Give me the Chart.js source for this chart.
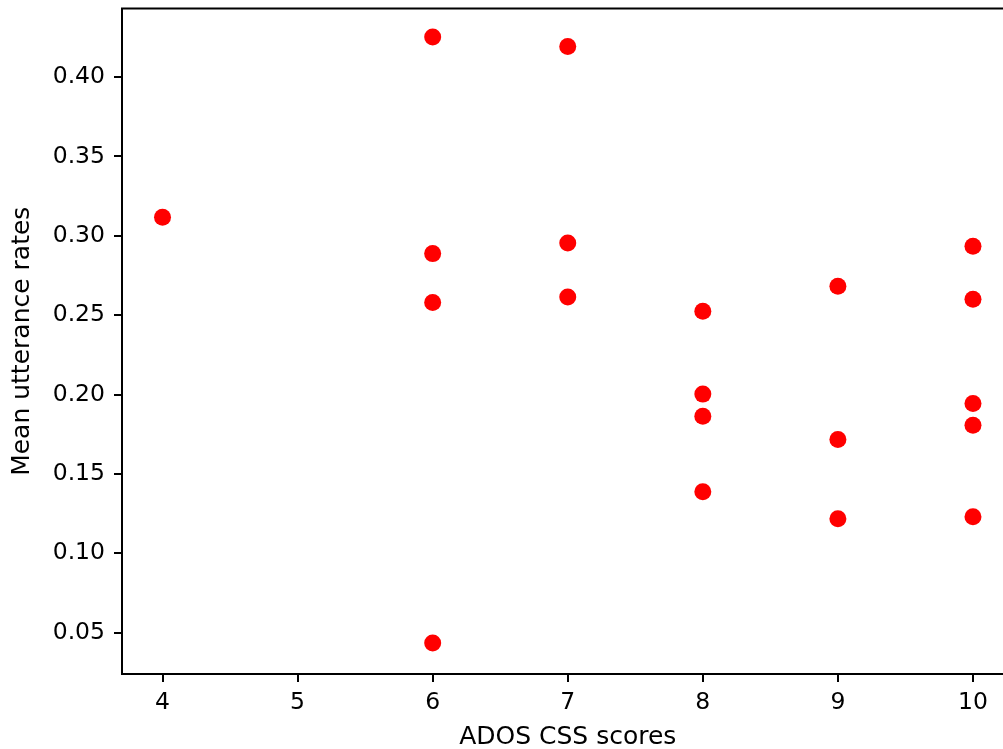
<!DOCTYPE html>
<html>
<head>
<meta charset="utf-8">
<script src="https://cdn.jsdelivr.net/npm/chart.js@4/dist/chart.umd.min.js"></script>
<style>
  html, body { margin: 0; padding: 0; background: #fff; overflow: hidden; }
  #wrap { width: 1003px; height: 749px; overflow: hidden; position: relative; }
  canvas { display: block; }
</style>
</head>
<body>
<div id="wrap"><canvas id="c" width="1040" height="752"></canvas></div>
<script>
const xScores = [4, 6, 6, 6, 6, 7, 7, 7, 8, 8, 8, 8, 9, 9, 9, 10, 10, 10, 10, 10];
const utteranceRates = [0.3117, 0.4252, 0.2888, 0.2580, 0.0435, 0.4193, 0.2955, 0.2615,
  0.2525, 0.2003, 0.1864, 0.1388, 0.2682, 0.1717, 0.1218, 0.2934, 0.2601, 0.1944, 0.1807, 0.1230];
const xTicks = [4, 5, 6, 7, 8, 9, 10];
const yTicks = [0.05, 0.10, 0.15, 0.20, 0.25, 0.30, 0.35, 0.40];
const xTitle = 'ADOS CSS scores';
const yTitle = 'Mean utterance rates';

const points = xScores.map((x, i) => ({ x: x, y: utteranceRates[i] }));
const FONT = 'DejaVu Sans';

const framePlugin = {
  id: 'frame',
  afterDraw(chart) {
    const a = chart.chartArea, ctx = chart.ctx;
    ctx.save();
    ctx.strokeStyle = '#000';
    ctx.lineWidth = 2;
    ctx.strokeRect(a.left, a.top, a.right - a.left, a.bottom - a.top);
    ctx.restore();
  }
};

new Chart(document.getElementById('c'), {
  type: 'scatter',
  data: {
    datasets: [{
      data: points,
      backgroundColor: '#ff0000',
      borderWidth: 0,
      pointRadius: 8.5,
      pointHoverRadius: 8.5
    }]
  },
  options: {
    responsive: false,
    animation: false,
    events: [],
    layout: { padding: { top: 8, right: 26.5, left: 0, bottom: 0 } },
    plugins: { legend: { display: false }, tooltip: { enabled: false } },
    scales: {
      x: {
        type: 'linear',
        min: 3.7,
        max: 10.3,
        afterBuildTicks: s => { s.ticks = xTicks.map(v => ({ value: v })); },
        afterFit: s => { s.height = 78; s.paddingLeft = 0; s.paddingRight = 0; },
        grid: { drawOnChartArea: false, drawTicks: true, tickLength: 8, color: '#000', lineWidth: 2 },
        border: { display: false },
        ticks: {
          color: '#000',
          padding: 7,
          maxRotation: 0,
          autoSkip: false,
          font: { family: FONT, size: 23.5 },
          callback: v => String(v)
        },
        title: {
          display: true,
          text: xTitle,
          color: '#000',
          font: { family: FONT, size: 25 },
          padding: { top: 0, bottom: 0 }
        }
      },
      y: {
        type: 'linear',
        min: 0.0240,
        max: 0.4432,
        afterBuildTicks: s => { s.ticks = yTicks.map(v => ({ value: v })); },
        afterFit: s => { s.width = 122; s.paddingTop = 0; s.paddingBottom = 0; },
        grid: { drawOnChartArea: false, drawTicks: true, tickLength: 8, color: '#000', lineWidth: 2 },
        border: { display: false },
        ticks: {
          color: '#000',
          padding: 9,
          autoSkip: false,
          font: { family: FONT, size: 23.5 },
          callback: v => v.toFixed(2)
        },
        title: {
          display: true,
          text: yTitle,
          color: '#000',
          font: { family: FONT, size: 25 },
          padding: { top: 7, bottom: 0 }
        }
      }
    }
  },
  plugins: [framePlugin]
});
</script>
</body>
</html>
